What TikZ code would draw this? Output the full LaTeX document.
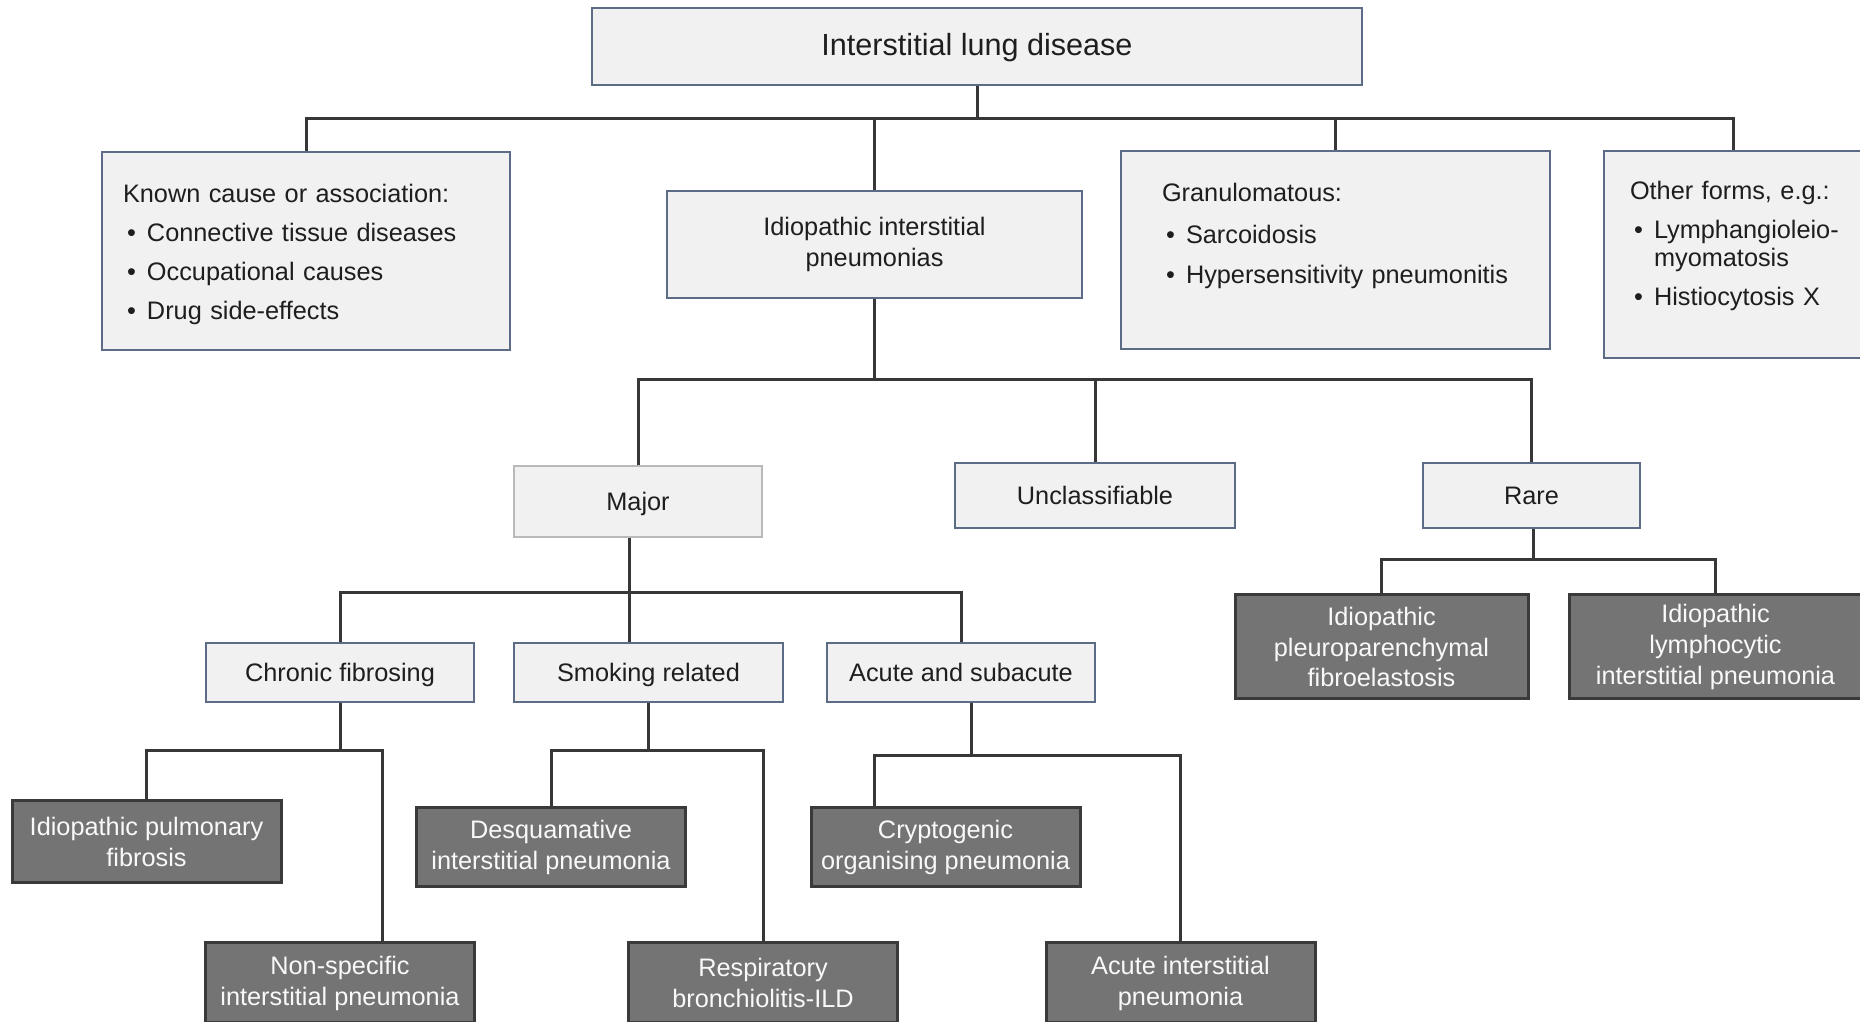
\documentclass[tikz,border=0pt]{standalone}
\usepackage{fontspec}
\setmainfont{Liberation Sans}
\usepackage{tikz}
\usetikzlibrary{positioning}
\definecolor{BoxFill}{RGB}{241,241,242}
\definecolor{BoxEdge}{RGB}{92,108,134}
\definecolor{MajorEdge}{RGB}{185,185,185}
\definecolor{DarkFill}{RGB}{116,116,116}
\definecolor{DarkEdge}{RGB}{58,58,58}
\definecolor{LinkGray}{RGB}{55,55,55}
\definecolor{TextDark}{RGB}{30,30,30}
\newcommand{\itm}{\hspace*{0.4mm}\makebox[2mm][l]{\textbullet}}
\newcommand{\cont}{\hspace*{2.4mm}}

\begin{document}
\begin{tikzpicture}[x=0.1mm, y=-0.1mm,
	txt/.style={font=\fontsize{7.2}{8.8}\selectfont},
	lbox/.style={rectangle,draw=BoxEdge,fill=BoxFill,line width=0.2mm,
		text=TextDark,txt,align=center,inner sep=0pt},
	tag/.style={lbox,text height=1.6ex,text depth=0.65ex},
	dbox/.style={rectangle,draw=DarkEdge,fill=DarkFill,line width=0.3mm,
		text=white!95!gray,txt,align=center,inner sep=0pt,
		minimum width=26.9mm},
	listbox/.style={lbox,align=left,minimum height=19.8mm},
	link/.style={draw=LinkGray,line width=0.3mm}]
\useasboundingbox (0,0) rectangle (1860,1022);
\clip (0,0) rectangle (1860,1022);
% top
\node[tag,minimum width=77mm,minimum height=7.7mm,
	font=\fontsize{8.7}{10}\selectfont] (ild) at (977,46.5) {Interstitial lung disease};
% first level
\node[listbox,text width=36.6mm,inner xsep=2.1mm] (known) at (306,251)
	{\rule{0pt}{2.6mm}Known cause or association:\\[2.3pt]
	\itm Connective tissue diseases\\[2.3pt]
	\itm Occupational causes\\[2.3pt]
	\itm Drug side-effects};
\node[lbox,minimum width=41.5mm,minimum height=10.7mm] (iip) at (874.5,244.5)
	{Idiopathic interstitial\\pneumonias};
\node[listbox,text width=34.7mm,inner xsep=4.1mm] (gran) at (1335.5,250)
	{Granulomatous:\\[3pt]
	\itm Sarcoidosis\\[2.6pt]
	\itm Hypersensitivity pneumonitis\\[0.2mm]\mbox{}};
\node[listbox,text width=22mm,inner xsep=2.6mm,minimum height=20.7mm] (other) at (1740,254.5)
	{Other forms, e.g.:\\[2.3pt]
	\itm Lymphangioleio-\\[-0.3mm]
	\cont myomatosis\\[2.3pt]
	\itm Histiocytosis X\\[-0.8mm]\mbox{}};
% iip groups
\node[tag,draw=MajorEdge,minimum width=24.8mm,minimum height=7.1mm] (major) at (638,501.5) {Major};
\node[tag,minimum width=28mm,minimum height=6.5mm] (unclass) at (1095,495.5) {Unclassifiable};
\node[tag,minimum width=21.7mm,minimum height=6.5mm] (rare) at (1531.5,495.5) {Rare};
% major groups
\node[tag,minimum width=26.8mm,minimum height=5.9mm] (chronic) at (340,672.5) {Chronic fibrosing};
\node[tag,minimum width=26.9mm,minimum height=5.9mm] (smoking) at (648.5,672.5) {Smoking related};
\node[tag,minimum width=26.8mm,minimum height=5.9mm] (acute) at (961,672.5) {Acute and subacute};
% entities
\node[dbox,minimum height=8.2mm] (ipf) at (146.5,842) {Idiopathic pulmonary\\fibrosis};
\node[dbox,minimum height=8mm] (nsip) at (340,983) {Non-specific\\interstitial pneumonia};
\node[dbox,minimum height=7.9mm] (dip) at (551,847.5) {Desquamative\\interstitial pneumonia};
\node[dbox,minimum height=8mm] (rbild) at (763,983) {Respiratory\\bronchiolitis-ILD};
\node[dbox,minimum height=7.9mm] (cop) at (945.5,847.5) {Cryptogenic\\organising pneumonia};
\node[dbox,minimum height=8mm] (aip) at (1180.5,983) {Acute interstitial\\pneumonia};
\node[dbox,minimum width=29.3mm,minimum height=10.4mm] (ippfe) at (1381.5,647)
	{Idiopathic\\pleuroparenchymal\\fibroelastosis};
\node[dbox,minimum width=29.3mm,minimum height=10.4mm] (iplip) at (1715.5,647)
	{Idiopathic\\lymphocytic\\interstitial pneumonia};
% junctions
\coordinate (j0) at (977,119);
\coordinate (j1) at (874.5,380);
\coordinate (j2) at (629,593);
\coordinate (j3) at (340,751);
\coordinate (j4) at (648.5,751);
\coordinate (j5) at (971,756);
\coordinate (j6) at (1533,560);
% connections
\draw[link] (ild.south) -- (j0);
\foreach \c in {known,iip,gran}
	\draw[link] (j0) -| (\c.north);
\draw[link] (j0) -| ([xshift=-0.7mm]other.north);
\draw[link] (iip.south) -- (j1);
\foreach \c in {major,unclass,rare}
	\draw[link] (j1) -| (\c.north);
\draw[link] (major.south -| j2) -- (j2);
\draw[link] (j2) -- (smoking.north -| j2);
\foreach \c in {chronic,acute}
	\draw[link] (j2) -| (\c.north);
\draw[link] (chronic.south) -- (j3);
\draw[link] (j3) -| (ipf.north);
\draw[link] (j3) -| ([xshift=4.2mm]nsip.north);
\draw[link] (smoking.south) -- (j4);
\draw[link] (j4) -| (dip.north);
\draw[link] (j4) -| (rbild.north);
\draw[link] (acute.south -| j5) -- (j5);
\draw[link] (j5) -| ([xshift=-7.15mm]cop.north);
\draw[link] (j5) -| (aip.north);
\draw[link] (rare.south -| j6) -- (j6);
\draw[link] (j6) -| (ippfe.north);
\draw[link] (j6) -| (iplip.north);
\end{tikzpicture}
\end{document}
